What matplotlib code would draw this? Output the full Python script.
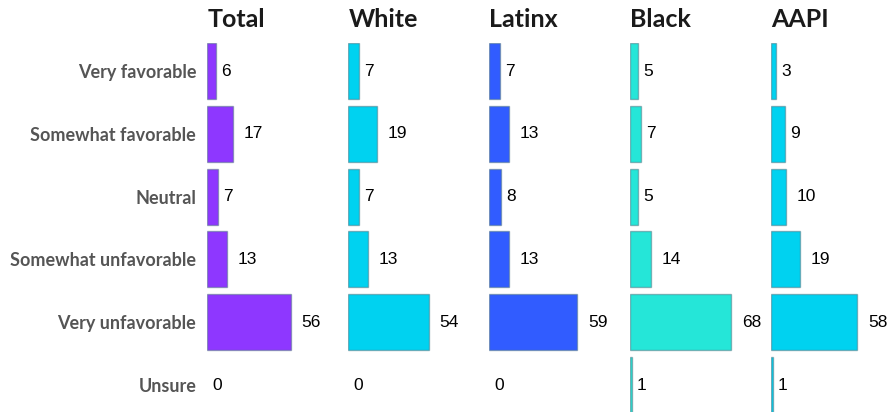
import matplotlib.pyplot as plt

plt.rcParams['font.family'] = ['Lato', 'DejaVu Sans']

# 数据
categories = ['Very favorable', 'Somewhat favorable', 'Neutral',
              'Somewhat unfavorable', 'Very unfavorable', 'Unsure']
groups = ['Total', 'White', 'Latinx', 'Black', 'AAPI']
total = [6, 17, 7, 13, 56, 0]
white = [7, 19, 7, 13, 54, 0]
latinx = [7, 13, 8, 13, 59, 0]
black = [5, 7, 5, 14, 68, 1]
aapi = [3, 9, 10, 19, 58, 1]
series = [total, white, latinx, black, aapi]
colors = ['#8e37ff', '#00d2f0', '#315cff', '#25e6d8', '#00d2f0']

W, H = 888, 412
fig = plt.figure(figsize=(W / 100, H / 100), dpi=100)

# 布局（像素）
left0 = 207.3
step = 141
ax_w = 125
px_per_unit = 1.486
row_h = 62.8
top_px = 71 - 0.45 * row_h

for i, (name, vals, c) in enumerate(zip(groups, series, colors)):
    ax = fig.add_axes([(left0 + step * i) / W, 0, ax_w / W, (H - top_px) / H])
    y = list(range(len(categories)))
    lws = [1 if v > 0 else 0 for v in vals]
    ax.barh(y, vals, height=0.89, color=c, edgecolor=(0.3, 0.45, 0.5, 0.5), linewidth=lws)
    ax.set_xlim(0, ax_w / px_per_unit)
    ax.set_ylim((H - 71) / row_h, -0.45)
    for yy, v in zip(y, vals):
        off = 3.8 if v < 10 else 7.8
        ax.annotate(str(v), xy=(v, yy), xytext=(off, 0), textcoords='offset points',
                    ha='left', va='center', fontsize=12.5, family='Liberation Sans',
                    color='black', annotation_clip=False)
    ax.annotate(name, xy=(0, 1), xycoords='axes fraction', xytext=(0, 11.3),
                textcoords='offset points', ha='left', va='baseline',
                fontsize=18, fontweight='bold', color='#1a1a1a')
    for s in ax.spines.values():
        s.set_visible(False)
    ax.set_xticks([])
    ax.set_yticks(y)
    ax.tick_params(length=0, pad=8)
    if i == 0:
        ax.set_yticklabels(categories, fontsize=13, fontweight='bold', color='#555555')
    else:
        ax.set_yticklabels([])

fig.savefig('out.png', dpi=100)
